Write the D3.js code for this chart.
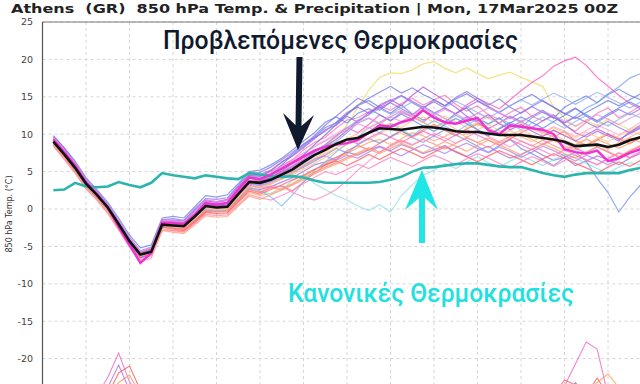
<!DOCTYPE html>
<html>
<head>
<meta charset="utf-8">
<script src="https://cdn.jsdelivr.net/npm/d3@7"></script>
<style>
  body { margin: 0; background: #fff; }
  svg { display: block; font-family: "DejaVu Sans", sans-serif; }
</style>
</head>
<body>
<script>
// forecast steps are 6-hourly, hours from the run start
const hours = d3.range(0, 55).map(i => i * 6);

const yTicks = [25, 20, 15, 10, 5, 0, -5, -10, -15, -20, -25];

// climatological normal 850 hPa temperature
const normal = [2.5,2.6,3.5,3.0,2.9,3.0,3.6,3.2,2.9,3.5,4.8,4.5,4.3,4.1,4.5,4.3,4.1,4.0,4.8,4.6,
  4.4,4.3,4.4,4.2,3.8,3.5,3.5,3.5,3.5,3.5,3.6,3.9,4.3,5.0,5.5,5.6,5.8,6.0,6.1,6.1,
  5.9,5.7,5.6,5.6,5.2,4.8,4.5,4.3,4.6,4.8,4.8,4.8,4.8,5.2,5.5];

// ensemble mean
const ensMean = [9.0,7.3,5.5,3.4,1.9,0.2,-2.0,-4.3,-6.1,-5.7,-2.1,-2.2,-2.3,-1.0,0.4,0.2,0.3,2.0,3.6,3.5,
  3.9,4.6,5.3,6.3,7.2,7.9,8.7,9.3,9.5,10.2,10.8,10.7,10.6,10.8,11.0,10.9,10.7,10.4,10.3,10.3,
  10.1,9.9,9.9,9.9,9.7,9.5,9.3,9.0,8.4,8.5,8.6,8.3,8.6,9.2,9.6];

// control run
const control = [9.3,7.6,5.8,3.6,2.0,0.2,-2.4,-4.8,-7.2,-5.9,-1.8,-1.9,-2.0,-0.8,0.8,0.6,0.8,2.6,4.2,4.0,
  4.6,5.4,6.2,7.0,7.8,8.3,8.6,8.8,9.2,10.2,11.2,11.0,11.6,12.0,13.2,12.2,11.6,11.4,11.8,12.2,
  10.5,10.0,11.2,11.0,10.8,10.6,10.0,8.0,7.6,7.4,7.8,6.4,6.8,7.5,8.0];

// ensemble members
const members = [
  [9.4,7.8,5.9,3.7,2.2,0.5,-1.6,-4.0,-5.8,-5.3,-1.6,-1.7,-1.9,-0.4,1.1,0.9,1.2,2.9,4.6,4.4,5.0,5.8,6.6,7.9,8.9,9.6,10.8,11.9,12.2,13.0,13.8,13.2,14.1,14.8,13.9,14.6,15.2,14.0,13.1,13.8,12.6,12.0,12.9,13.6,12.4,11.8,12.5,11.2,10.4,11.6,12.8,13.5,12.2,12.9,13.8],
  [8.8,7.0,5.2,3.1,1.6,-0.1,-2.3,-4.6,-6.5,-6.0,-2.4,-2.5,-2.6,-1.5,-0.1,-0.3,-0.2,1.4,2.8,2.6,3.0,3.6,4.2,5.0,5.9,6.3,6.9,7.6,7.2,7.9,8.4,7.8,8.6,8.1,7.4,7.9,8.5,7.6,7.0,7.8,8.4,7.5,6.8,7.3,8.0,7.2,6.5,6.9,5.8,6.4,7.1,6.6,5.9,6.8,7.4],
  [9.1,7.4,5.6,3.5,2.0,0.3,-1.9,-4.1,-5.9,-5.5,-1.9,-1.8,-2.0,-0.6,0.8,0.6,0.7,2.4,4.1,3.8,4.4,5.9,7.2,8.4,9.6,10.9,11.5,12.6,13.8,14.5,13.6,12.8,13.9,12.7,11.9,12.5,11.6,12.8,13.5,12.1,11.4,12.2,10.9,11.7,12.4,13.2,12.1,13.6,14.4,15.1,14.2,15.3,16.0,15.2,14.6],
  [8.6,6.9,5.1,3.0,1.5,-0.3,-2.4,-4.5,-6.2,-5.9,-2.6,-2.9,-3.0,-1.8,-0.5,-0.7,-0.6,0.9,2.2,1.8,2.1,2.8,3.4,4.3,5.2,6.1,6.8,7.4,8.2,8.9,9.3,8.6,9.4,10.2,9.8,9.1,9.7,10.4,9.6,8.9,9.5,8.8,9.4,10.1,9.3,8.6,9.2,8.4,7.9,8.6,9.3,8.7,8.1,8.8,9.5],
  [9.0,7.2,5.4,3.3,1.8,0.1,-2.1,-4.2,-6.0,-5.6,-2.0,-2.1,-2.2,-0.9,0.5,0.3,0.5,2.2,3.9,3.7,4.3,5.4,6.4,7.0,7.6,8.4,9.5,11.2,13.6,15.9,17.6,18.2,18.1,18.6,19.4,19.7,18.8,18.2,18.9,18.1,17.4,17.9,18.3,17.6,17.0,16.4,13.6,12.2,11.0,11.8,11.2,12.0,11.3,10.6,11.2],
  [8.9,7.1,5.3,3.2,1.7,0.0,-2.2,-4.4,-6.3,-5.8,-2.3,-2.4,-2.5,-1.4,0.0,-0.2,-0.1,1.5,3.0,2.4,2.0,2.6,3.8,4.6,3.4,2.6,1.8,1.2,0.4,-0.2,0.6,-0.4,1.8,3.2,4.5,5.2,6.1,5.4,6.3,7.0,6.2,5.6,6.4,7.1,6.5,5.8,6.6,7.3,6.8,6.1,5.4,4.8,5.6,6.2,5.9],
  [9.2,7.5,5.6,3.4,1.9,0.2,-2.0,-4.3,-6.0,-5.6,-2.2,-2.5,-2.8,-1.6,-0.3,-0.4,-0.3,1.2,2.6,2.2,2.8,3.1,2.4,3.6,4.8,5.9,6.6,7.8,8.5,7.9,8.8,9.6,10.4,9.7,10.6,11.3,10.5,9.8,10.7,11.4,10.8,10.1,9.4,10.2,10.9,10.3,9.6,10.4,9.1,8.5,9.2,10.0,9.4,8.7,9.6],
  [9.6,8.0,6.0,3.8,2.3,0.6,-1.7,-4.0,-5.9,-5.4,-1.5,-1.5,-1.6,-0.2,1.2,1.0,1.3,3.0,4.5,4.6,5.2,6.3,7.1,8.2,9.4,10.6,11.2,12.4,11.6,12.9,13.5,14.2,13.4,12.6,13.7,12.9,12.1,11.4,12.3,11.6,10.8,11.5,12.4,11.7,10.9,11.8,12.6,11.3,10.2,9.6,10.4,9.8,9.1,10.3,11.2],
  [8.7,7.0,5.2,3.1,1.6,-0.1,-2.4,-4.7,-6.6,-6.0,-2.5,-2.3,-2.4,-1.2,0.2,0.0,0.1,1.8,3.3,3.1,3.4,4.0,4.8,5.6,6.4,7.2,8.1,7.5,8.6,9.4,8.8,9.7,10.5,9.6,8.9,9.8,10.6,9.9,9.2,8.4,7.6,8.5,9.3,8.1,7.4,6.6,5.8,6.9,7.6,6.4,4.1,2.2,-0.4,1.6,3.2],
  [9.3,7.6,5.7,3.5,2.0,0.3,-1.8,-4.2,-6.1,-5.8,-2.0,-2.0,-2.1,-0.7,0.7,0.5,0.6,2.2,3.8,3.8,4.2,5.0,5.8,6.9,7.8,8.6,9.8,10.9,10.2,11.3,12.6,11.8,12.9,12.3,11.6,12.8,13.5,12.7,13.9,14.8,14.1,13.4,14.6,15.8,16.9,17.8,19.1,19.8,20.3,19.2,17.6,16.4,15.2,14.1,13.4],
  [8.9,7.2,5.4,3.3,1.8,0.1,-2.1,-4.4,-6.2,-5.7,-2.2,-2.1,-2.2,-1.1,0.3,0.2,0.2,1.9,3.5,3.3,3.8,4.5,5.2,6.0,7.1,8.3,9.0,10.2,11.5,12.1,11.4,12.3,13.1,12.4,11.6,10.8,11.7,12.5,11.8,10.6,9.9,10.8,11.6,10.9,12.2,13.0,12.3,11.6,12.4,13.5,14.2,15.4,16.3,17.5,18.1],
  [9.1,7.3,5.5,3.4,1.9,0.2,-2.0,-4.2,-6.0,-5.6,-2.3,-2.6,-2.7,-1.3,0.1,-0.2,-0.1,1.6,3.1,2.9,3.4,4.1,4.8,5.7,6.6,7.4,8.2,8.9,9.8,9.2,10.1,10.8,10.1,9.5,10.4,11.2,10.6,9.9,10.7,11.3,10.6,9.8,10.5,9.7,9.0,9.8,10.6,9.9,9.2,8.6,9.4,10.1,9.5,8.8,9.7],
  [9.0,7.2,5.5,3.4,1.8,0.2,-2.2,-4.5,-6.4,-5.9,-2.0,-2.1,-2.3,-1.1,0.3,0.1,0.2,1.9,3.4,3.2,3.6,4.3,5.0,5.8,6.7,7.1,6.5,7.2,6.8,7.6,8.3,7.7,7.1,7.9,8.6,8.0,7.4,8.2,8.8,8.1,7.5,8.3,7.7,6.9,7.6,8.4,7.8,7.1,6.4,7.2,6.6,5.9,6.7,7.4,8.1],
  [9.5,7.9,6.0,3.7,2.1,0.4,-1.8,-4.1,-5.9,-5.5,-1.7,-1.9,-2.0,-0.5,1.0,0.7,0.9,2.5,4.2,4.0,4.6,5.5,6.4,7.3,8.5,9.2,10.1,10.9,11.7,12.2,11.5,12.6,13.2,12.5,13.4,12.8,12.1,11.3,12.0,12.8,12.1,11.5,12.2,11.6,10.9,10.2,11.0,10.4,9.7,10.5,11.2,10.6,9.9,10.7,11.6],
  [8.8,7.0,5.2,3.2,1.6,-0.1,-2.3,-4.6,-6.4,-5.9,-2.4,-2.7,-2.9,-1.7,-0.4,-0.6,-0.5,1.0,2.4,2.0,2.6,3.2,3.9,4.5,5.3,5.9,6.4,5.8,6.5,7.3,6.6,7.4,8.1,7.5,6.8,7.6,8.3,7.7,7.0,6.3,7.1,7.8,7.2,6.6,5.9,6.7,7.4,6.8,6.1,5.5,4.8,5.6,6.3,5.7,6.5],
  [9.2,7.5,5.7,3.6,2.1,0.4,-1.8,-4.0,-5.8,-5.4,-1.8,-1.7,-1.8,-0.3,1.1,0.9,1.1,2.8,4.4,4.3,5.1,6.2,7.4,8.6,9.8,11.2,12.4,13.6,14.8,14.1,13.2,14.3,15.1,14.2,13.4,14.6,13.8,14.9,15.7,14.8,13.9,14.7,13.6,12.8,13.7,14.5,13.6,12.7,13.5,12.4,11.6,12.5,13.3,12.6,13.4],
  [9.0,7.3,5.4,3.3,1.8,0.1,-2.1,-4.3,-6.1,-5.7,-2.1,-2.3,-2.4,-1.2,0.2,0.0,0.1,1.7,3.2,3.0,3.4,4.0,4.6,5.3,6.1,6.9,7.8,8.6,9.3,10.1,10.8,11.5,10.9,11.8,12.3,11.6,12.4,11.7,10.9,11.6,12.3,11.5,10.8,11.4,10.7,10.1,10.9,10.2,9.5,10.3,9.6,9.0,9.8,10.5,9.9],
  [9.3,7.6,5.8,3.6,2.0,0.3,-1.9,-4.2,-6.2,-5.8,-2.0,-1.9,-2.0,-0.8,0.6,0.4,0.5,2.1,3.7,3.6,4.0,4.8,5.6,6.6,7.6,8.4,9.3,10.5,11.8,12.6,13.9,14.6,13.8,15.2,16.3,15.4,14.5,13.6,12.4,11.8,12.6,11.4,10.6,11.3,10.4,9.7,10.5,9.8,9.1,9.9,10.7,10.0,9.3,10.1,10.8],
  [9.4,7.7,5.8,3.6,2.0,0.3,-2.0,-4.4,-6.5,-6.1,-2.1,-2.0,-2.2,-0.8,0.6,0.4,0.5,2.2,3.8,3.6,4.1,4.9,5.7,6.6,7.3,8.0,8.6,9.3,8.7,9.5,10.2,9.6,8.9,9.7,10.4,9.8,9.1,9.9,10.6,9.9,9.2,8.5,9.3,8.6,7.9,8.7,9.4,8.8,8.1,7.5,8.3,7.6,6.9,7.7,8.4],
  [8.9,7.1,5.3,3.2,1.7,0.0,-2.2,-4.4,-6.2,-5.7,-2.3,-2.3,-2.4,-1.3,0.0,-0.2,-0.1,1.4,2.9,2.4,1.6,0.4,1.9,3.6,5.1,6.3,7.6,8.8,9.6,10.9,10.2,11.4,10.6,9.8,10.9,11.8,11.1,10.3,11.2,12.0,11.3,12.1,11.4,10.6,11.5,12.3,11.6,10.8,11.7,12.5,11.8,11.1,12.0,12.8,12.2],
  [9.1,7.4,5.5,3.4,1.9,0.2,-2.0,-4.1,-5.9,-5.5,-2.4,-2.6,-2.6,-1.5,-0.2,-0.4,-0.2,1.3,2.7,2.3,2.9,2.6,3.3,4.1,4.9,5.6,6.2,6.9,7.5,8.2,7.6,8.4,9.1,8.5,9.3,8.7,8.0,8.8,9.5,8.9,8.2,9.0,9.7,9.1,8.4,9.2,8.5,7.8,8.6,9.3,8.7,8.0,8.8,9.5,8.9],
  [9.0,7.2,5.4,3.3,1.8,0.1,-2.1,-4.3,-6.1,-5.7,-2.0,-2.2,-2.3,-1.0,0.4,0.2,0.3,1.9,3.2,2.8,3.1,3.0,2.2,1.6,1.2,1.8,2.6,3.8,5.2,6.4,7.6,8.5,9.2,8.6,9.4,10.1,9.5,8.8,9.6,10.3,9.7,9.0,8.3,9.1,8.5,7.8,7.1,7.9,7.2,6.5,5.9,6.8,7.5,6.9,7.7],
  [9.2,7.4,5.6,3.5,2.0,0.3,-1.9,-4.2,-6.0,-5.6,-2.0,-2.1,-2.1,-0.8,0.6,0.4,0.5,2.1,3.7,3.7,4.2,5.1,6.1,7.2,8.6,9.9,11.3,12.7,13.9,14.8,15.6,16.4,15.5,16.2,15.3,14.6,13.8,14.7,15.4,14.5,13.7,12.9,13.8,14.6,15.3,14.4,13.6,12.8,12.1,12.9,13.7,14.5,13.8,14.6,15.4],
  [8.7,7.0,5.3,3.2,1.7,0.0,-2.3,-4.5,-6.3,-5.9,-2.2,-2.4,-2.5,-1.3,0.1,-0.1,0.0,1.6,3.0,2.8,3.3,4.2,5.0,5.9,6.8,7.7,8.5,9.4,10.1,10.9,11.6,10.8,11.7,12.4,11.6,10.8,11.5,10.7,9.9,10.6,11.3,10.5,9.8,10.6,9.9,9.2,9.9,9.2,8.6,9.4,8.7,8.1,8.9,9.6,10.3],
  [9.8,8.2,6.4,4.2,2.6,0.9,-1.2,-3.5,-5.2,-4.8,-1.2,-1.0,-1.2,0.3,1.8,1.6,1.9,3.4,5.0,5.2,5.9,6.8,7.9,9.1,10.2,11.6,12.3,11.5,12.8,13.4,12.6,11.8,12.7,11.9,11.1,10.4,11.3,12.1,11.4,10.6,9.8,10.7,11.5,12.3,11.6,10.8,11.7,12.5,13.4,12.6,11.8,12.7,13.5,14.3,13.6],
  [8.4,6.6,4.8,2.7,1.2,-0.6,-2.8,-5.1,-7.0,-6.6,-2.8,-2.9,-3.1,-1.9,-0.7,-0.9,-0.8,0.6,1.9,1.5,1.2,1.8,2.5,3.4,4.2,5.0,4.6,5.3,6.0,5.4,6.2,6.9,6.3,5.7,6.5,7.2,6.6,5.9,6.7,7.4,6.8,6.1,5.5,6.3,7.0,6.4,5.7,6.5,7.2,6.6,5.9,6.7,7.5,6.8,7.6],
  [9.7,8.1,6.2,4.0,2.4,0.7,-1.5,-3.8,-5.6,-5.1,-1.4,-1.3,-1.5,0.0,1.4,1.3,1.5,3.2,4.8,4.9,5.6,6.6,7.6,8.7,9.5,10.4,11.6,12.9,13.6,12.8,13.7,14.5,15.2,14.4,13.6,14.3,13.5,12.7,13.6,14.4,13.6,12.8,12.1,12.9,13.7,12.9,12.2,11.5,12.3,11.6,10.9,11.7,10.9,10.2,11.0],
  [8.5,6.8,4.9,2.8,1.3,-0.5,-2.7,-4.9,-6.8,-6.3,-2.9,-3.1,-3.3,-2.1,-0.9,-1.1,-1.0,0.4,1.7,1.3,1.9,2.5,3.2,3.9,4.7,5.4,6.0,6.7,7.3,8.0,7.4,8.1,8.8,8.2,7.5,8.3,9.0,8.4,7.7,8.5,9.2,8.6,7.9,7.2,8.0,8.7,8.1,7.4,6.8,7.6,8.3,7.7,7.0,7.8,8.5],
  [9.0,7.3,5.5,3.4,1.9,0.2,-2.0,-4.2,-6.0,-5.6,-2.0,-2.1,-2.2,-0.9,0.5,0.3,0.4,2.0,3.5,3.4,3.9,4.7,5.6,6.5,7.5,8.6,9.7,10.8,11.9,12.6,13.4,12.7,13.5,14.3,13.6,12.8,13.6,14.4,13.7,12.9,12.2,13.0,13.8,14.6,13.9,14.7,15.5,14.8,14.0,14.8,15.6,14.9,14.2,13.5,14.3],
  [9.6,7.9,6.1,3.9,2.3,0.6,-1.6,-3.9,-5.7,-5.2,-1.5,-1.6,-1.7,-0.3,1.2,1.0,1.2,2.8,4.3,4.2,4.8,5.7,6.6,7.5,8.3,9.1,9.9,10.6,11.4,10.8,11.6,12.3,11.7,12.5,13.2,12.6,13.3,12.7,12.0,12.8,13.5,12.9,12.2,11.6,12.4,13.1,12.5,11.8,11.1,11.9,12.6,12.0,11.3,12.1,12.8]
];

const memberColors = ["#ff6fb5","#a070e0","#5a7fe0","#ffa05a","#f0dc60","#8ee0e8","#ff6a6a","#9b5de0",
  "#6f8fe8","#ff4fc0","#7a9cf0","#ffb070","#b080f0","#ffa0d0","#ff5a5a","#8870e8",
  "#ffc080","#b050e0","#f060d0","#80b8f0","#ff8a80","#ff80c0","#6a70e0","#ffb890",
  "#5f7fe6","#ff7fc8","#9a6ae6","#ff9a66","#90a8f0","#e890e0"];

// precipitation (mm / 6h) of the few wet members, on its own scale at the bottom
const precip = [
  [0,0,0,0,0,3.5,8.4,2.6,0,0,0,0,0,0,0,0,0,0,0,0,0,0,0,0,0,0,0,0,0,0,0,0,0,0,0,0,0,0,0,0,0,0,0,0,0,0,0,1.8,6.2,10.6,9.2,0,0,0,0],
  [0,0,0,0,0,0,4.4,5.8,1.0,0,0,0,0,0,0,0,0,0,0,0,0,0,0,0,0,0,0,0,0,0,0,0,0,0,0,0,0,0,0,0,0,0,0,0,0,0,0,3.0,2.0,0,3.4,0,0,0,0],
  [0,0,0,0,0,0,2.5,4.0,0,0,0,0,0,0,0,0,0,0,0,0,0,0,0,0,0,0,0,0,0,0,0,0,0,0,0,0,0,0,0,0,0,0,0,0,0,0,0,0,0,0,2.5,4.2,1.5,0,0],
  [0,0,0,0,0,1.5,6.0,1.0,0,0,0,0,0,0,0,0,0,0,0,0,0,0,0,0,0,0,0,0,0,0,0,0,0,0,0,0,0,0,0,0,0,0,0,0,0,0,0,0,2.5,0,0,0,0,0,0]
];
const precipColors = ["#f070c8", "#ff6060", "#ffa060", "#c070e0"];

const title = "Athens  (GR)  850 hPa Temp. & Precipitation | Mon, 17Mar2025 00Z";

const width = 640, height = 384;
const plotLeft = 42.5, plotTop = 22;

const svg = d3.select("body").append("svg")
    .attr("width", width)
    .attr("height", height);

const x = d3.scaleLinear().domain([-6, 330]).range([plotLeft, plotLeft + 336 * 1.8125]);
const y = d3.scaleLinear().domain([-25, 25]).range([396, plotTop]);
const yPrecip = d3.scaleLinear().domain([0, 10]).range([395, 345]);

svg.append("defs").append("clipPath").attr("id", "plot")
    .append("rect")
    .attr("x", plotLeft).attr("y", plotTop)
    .attr("width", width - plotLeft).attr("height", height - plotTop);

// grid
const grid = svg.append("g");
grid.selectAll("line.h")
    .data(yTicks)
    .join("line")
    .attr("class", "h")
    .attr("x1", plotLeft).attr("x2", width)
    .attr("y1", d => y(d)).attr("y2", d => y(d))
    .attr("stroke", "#d6d6d6").attr("stroke-dasharray", "3,3");
grid.selectAll("line.v")
    .data(d3.range(18, 330, 24))
    .join("line")
    .attr("class", "v")
    .attr("x1", d => x(d)).attr("x2", d => x(d))
    .attr("y1", plotTop).attr("y2", height)
    .attr("stroke", "#d6d6d6").attr("stroke-dasharray", "3,3");

// axes frame
svg.append("line")
    .attr("x1", plotLeft).attr("x2", width).attr("y1", plotTop).attr("y2", plotTop)
    .attr("stroke", "#777");
svg.append("line")
    .attr("x1", plotLeft).attr("x2", plotLeft).attr("y1", plotTop).attr("y2", height)
    .attr("stroke", "#555").attr("stroke-width", 1.2);

svg.append("g").selectAll("text")
    .data(yTicks.filter(d => d > -25))
    .join("text")
    .attr("x", 33)
    .attr("y", d => y(d))
    .attr("dy", "0.35em")
    .attr("text-anchor", "end")
    .attr("font-size", 9.5)
    .attr("fill", "#444")
    .text(d => d);

svg.append("text")
    .attr("transform", "translate(12,214) rotate(-90)")
    .attr("text-anchor", "middle")
    .attr("font-size", 8)
    .attr("fill", "#333")
    .text("850 hPa Temp. (°C)");

svg.append("text")
    .attr("x", 11).attr("y", 13)
    .attr("font-size", 13)
    .attr("font-weight", "bold")
    .attr("fill", "#222")
    .attr("textLength", 607)
    .attr("lengthAdjust", "spacingAndGlyphs")
    .style("white-space", "pre")
    .text(title);

const line = d3.line()
    .x((d, i) => x(hours[i]))
    .y(d => y(d));
const precipLine = d3.line()
    .x((d, i) => x(hours[i]))
    .y(d => yPrecip(d));

const plot = svg.append("g").attr("clip-path", "url(#plot)");

plot.selectAll("path.precip")
    .data(precip)
    .join("path")
    .attr("class", "precip")
    .attr("d", precipLine)
    .attr("fill", "none")
    .attr("stroke", (d, i) => precipColors[i])
    .attr("stroke-width", 1.1)
    .attr("opacity", 0.85);

plot.selectAll("path.member")
    .data(members)
    .join("path")
    .attr("class", "member")
    .attr("d", line)
    .attr("fill", "none")
    .attr("stroke", (d, i) => memberColors[i])
    .attr("stroke-width", 1.2)
    .attr("opacity", 0.75);

plot.append("path")
    .attr("d", line(normal))
    .attr("fill", "none")
    .attr("stroke", "#2cb5ae")
    .attr("stroke-width", 2.6);

plot.append("path")
    .attr("d", line(control))
    .attr("fill", "none")
    .attr("stroke", "#f030d0")
    .attr("stroke-width", 2.4);

plot.append("path")
    .attr("d", line(ensMean))
    .attr("fill", "none")
    .attr("stroke", "#111")
    .attr("stroke-width", 2.6);

// annotations
svg.append("path")
    .attr("d", "M296.5,57 L302.5,57 L301.5,126 L314,115 L298,150 L283,113 L295.5,125 Z")
    .attr("fill", "#101a2e");
svg.append("path")
    .attr("d", "M419,243 L425,243 L425,198 L438,210 L422,170 L405,210 L419,198 Z")
    .attr("fill", "#22e6e6");

svg.append("text")
    .attr("x", 163).attr("y", 49)
    .attr("font-family", "Roboto")
    .attr("font-weight", 500)
    .attr("font-size", 25)
    .attr("fill", "#101a2e")
    .attr("textLength", 355)
    .attr("lengthAdjust", "spacingAndGlyphs")
    .text("Προβλεπόμενες Θερμοκρασίες");

svg.append("text")
    .attr("x", 288).attr("y", 302)
    .attr("font-family", "Roboto")
    .attr("font-weight", 500)
    .attr("font-size", 25)
    .attr("fill", "#22e0e0")
    .attr("textLength", 286)
    .attr("lengthAdjust", "spacingAndGlyphs")
    .text("Κανονικές Θερμοκρασίες");
</script>
</body>
</html>
